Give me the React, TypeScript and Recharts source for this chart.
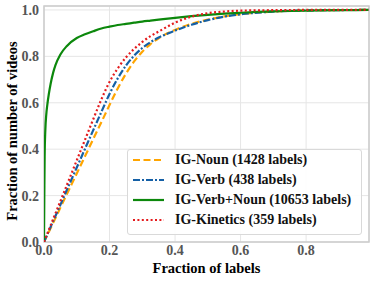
import {
  CartesianGrid,
  Label,
  Line,
  LineChart,
  ReferenceArea,
  XAxis,
  YAxis,
} from "recharts";

// fraction of labels (x)
const labelFrac = [
  0, 0.001, 0.002, 0.004, 0.007, 0.01, 0.015, 0.02, 0.028, 0.035, 0.05, 0.07,
  0.1, 0.125, 0.15, 0.175, 0.2, 0.225, 0.25, 0.275, 0.3, 0.325, 0.35, 0.4,
  0.45, 0.5, 0.55, 0.6, 0.7, 0.8, 0.9, 0.99,
];

// fraction of number of videos (y), one per series
const nounY = [
  0, 0.003, 0.006, 0.012, 0.021, 0.03, 0.044, 0.059, 0.083, 0.103, 0.148,
  0.207, 0.295, 0.369, 0.443, 0.516, 0.59, 0.662, 0.725, 0.778, 0.82, 0.853,
  0.878, 0.914, 0.94, 0.958, 0.972, 0.982, 0.993, 0.998, 0.9995, 1,
];
const verbY = [
  0, 0.003, 0.006, 0.013, 0.022, 0.032, 0.048, 0.064, 0.09, 0.112, 0.16,
  0.225, 0.321, 0.401, 0.481, 0.56, 0.638, 0.705, 0.76, 0.803, 0.836, 0.861,
  0.881, 0.911, 0.936, 0.956, 0.971, 0.981, 0.993, 0.998, 0.9995, 1,
];
const verbNounY = [
  0, 0.2, 0.37, 0.48, 0.55, 0.59, 0.64, 0.68, 0.73, 0.762, 0.808, 0.845,
  0.879, 0.895, 0.908, 0.92, 0.928, 0.935, 0.94, 0.945, 0.95, 0.954, 0.958,
  0.966, 0.973, 0.979, 0.984, 0.988, 0.994, 0.997, 0.999, 1,
];
const kineticsY = [
  0, 0.0035, 0.007, 0.014, 0.025, 0.035, 0.053, 0.07, 0.099, 0.123, 0.176,
  0.246, 0.352, 0.44, 0.528, 0.614, 0.69, 0.748, 0.795, 0.832, 0.862, 0.887,
  0.907, 0.945, 0.971, 0.986, 0.993, 0.997, 0.999, 1, 1, 1,
];

const xTicks = [0, 0.2, 0.4, 0.6, 0.8];
const yTicks = [0, 0.2, 0.4, 0.6, 0.8, 1.0];

const series = [
  { key: "noun", name: "IG-Noun (1428 labels)", color: "#ffa500", dash: "7 3.5" },
  { key: "verb", name: "IG-Verb (438 labels)", color: "#1560a6", dash: "7 2 2 2" },
  { key: "verbNoun", name: "IG-Verb+Noun (10653 labels)", color: "#0c880c", dash: undefined },
  { key: "kinetics", name: "IG-Kinetics (359 labels)", color: "#e41a1c", dash: "2 2.4" },
] as const;

const data = labelFrac.map((x, i) => ({
  x,
  noun: nounY[i],
  verb: verbY[i],
  verbNoun: verbNounY[i],
  kinetics: kineticsY[i],
}));

const font = '"Liberation Serif", "DejaVu Serif", serif';
const tickStyle = { fill: "#555555", fontSize: 14, fontWeight: 700, fontFamily: font };

function LegendBox() {
  return (
    <div
      style={{
        position: "absolute",
        left: 127,
        top: 149,
        boxSizing: "border-box",
        width: 235,
        height: 86,
        background: "rgba(255,255,255,0.9)",
        border: "1px solid #d9d9d9",
        borderRadius: 3,
        padding: "0px 0 0 5px",
        fontFamily: font,
        fontWeight: 700,
        fontSize: 14,
        color: "#111",
      }}
    >
      {series.map((s) => (
        <div key={s.key} style={{ display: "flex", alignItems: "center", height: 20 }}>
          <svg width={31} height={6} style={{ marginRight: 11 }}>
            <line
              x1={0}
              y1={3}
              x2={31}
              y2={3}
              stroke={s.color}
              strokeWidth={2.2}
              strokeDasharray={s.dash}
            />
          </svg>
          <span style={{ lineHeight: "20px", whiteSpace: "nowrap" }}>{s.name}</span>
        </div>
      ))}
    </div>
  );
}

export default function App() {
  return (
    <div style={{ position: "absolute", left: 0, top: 0, width: 374, height: 282, background: "#fff" }}>
      <LineChart
        width={374}
        height={282}
        data={data}
        margin={{ top: 6, right: 5, bottom: 0, left: 0 }}
      >
        <CartesianGrid stroke="#e6e6e6" strokeWidth={1} />
        <XAxis
          type="number"
          dataKey="x"
          domain={[0, 0.992]}
          ticks={xTicks}
          tickFormatter={(v: number) => v.toFixed(1)}
          tick={tickStyle}
          tickSize={0}
          tickMargin={3}
          axisLine={false}
          height={40}
          allowDataOverflow
        >
          <Label
            value="Fraction of labels"
            position="insideBottom"
            offset={9}
            style={{ fill: "#000", fontSize: 14.5, fontWeight: 700, fontFamily: font }}
          />
        </XAxis>
        <YAxis
          type="number"
          domain={[0, 1.017]}
          ticks={yTicks}
          tickFormatter={(v: number) => v.toFixed(1)}
          tick={tickStyle}
          tickSize={0}
          tickMargin={5}
          axisLine={false}
          width={44}
          allowDataOverflow
        >
          <Label
            content={() => (
              <text
                x={12}
                y={131}
                transform="rotate(-90 12 131)"
                textAnchor="middle"
                dominantBaseline="central"
                style={{ fill: "#000", fontSize: 14.5, fontWeight: 700, fontFamily: font }}
              >
                Fraction of number of videos
              </text>
            )}
          />
        </YAxis>
        <ReferenceArea
          x1={0}
          x2={0.992}
          y1={0}
          y2={1.017}
          fill="none"
          stroke="#cccccc"
          strokeWidth={1.5}
          ifOverflow="visible"
        />
        {series.map((s) => (
          <Line
            key={s.key}
            type="monotone"
            dataKey={s.key}
            name={s.name}
            stroke={s.color}
            strokeWidth={2.2}
            strokeDasharray={s.dash}
            dot={false}
            activeDot={false}
            isAnimationActive={false}
          />
        ))}
      </LineChart>
      <LegendBox />
    </div>
  );
}
